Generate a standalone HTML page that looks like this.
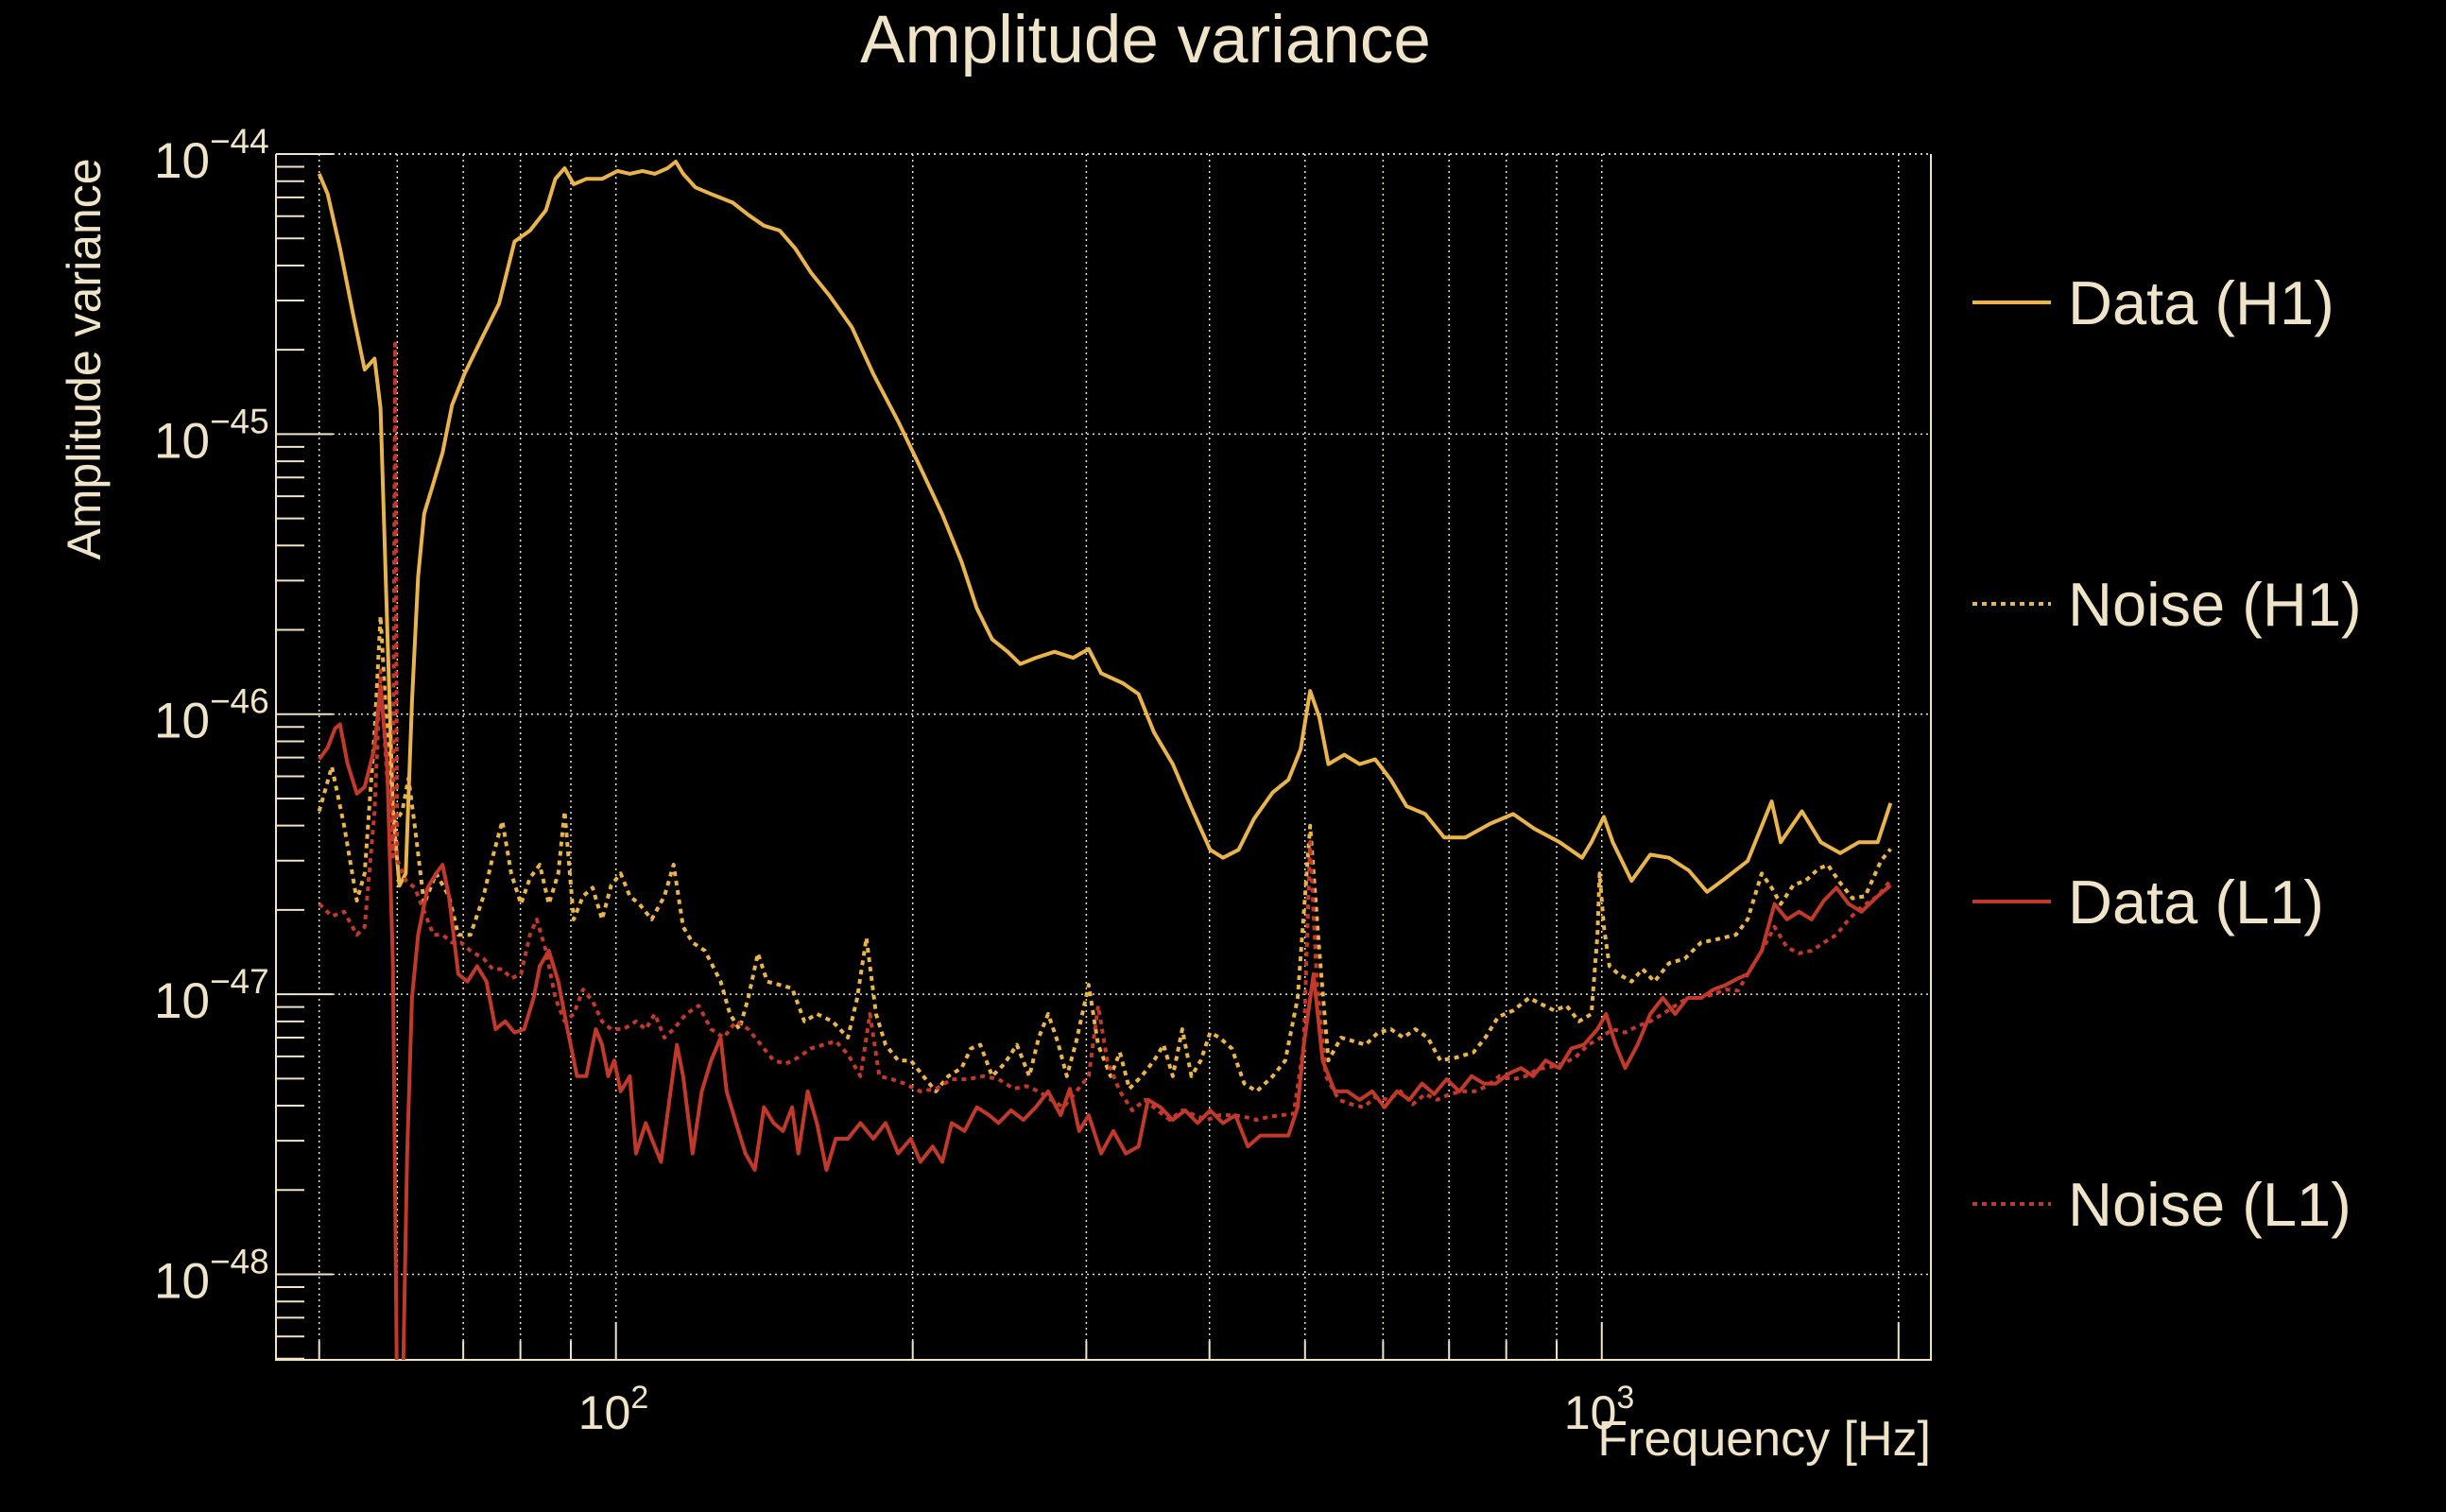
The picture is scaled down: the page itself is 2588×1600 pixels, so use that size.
<!DOCTYPE html>
<html><head><meta charset="utf-8"><title>Amplitude variance</title>
<style>
html,body{margin:0;padding:0;background:#000;}
svg{display:block;}
text{font-family:"Liberation Sans",Arial,sans-serif;fill:#f0e4c8;}
</style></head>
<body>
<svg id="chart" width="2588" height="1600" viewBox="0 0 2588 1600" xmlns="http://www.w3.org/2000/svg">
<rect x="0" y="0" width="2588" height="1600" fill="#000"/>
<text x="1212" y="66" font-size="71" text-anchor="middle">Amplitude variance</text>
<text transform="translate(106,380) rotate(-90)" font-size="50" text-anchor="middle">Amplitude variance</text>
<text x="2043" y="1540" font-size="52" text-anchor="end">Frequency [Hz]</text>
<defs><clipPath id="plotclip"><rect x="292" y="163" width="1751" height="1276"/></clipPath></defs>
<g id="grid"></g>
<g id="axes"></g>
<g id="series" clip-path="url(#plotclip)"></g>
<g id="legend"></g>
</svg>
<script>
// ---- data ----
const h1DataFreq = [50,51,52.5,54.1,55.6,56.9,57.7,58.6,59.4,60.3,61.2,62.1,63.0,63.9,65.3,66.7,68.2,70.2,73.4,76.1,78.9,81.8,84.9,86.8,88.7,90.6,93.3,96.8,100.4,103.3,106.4,109.5,112.8,115,117,120.4,124.9,131.4,136.2,141.3,146.6,152.0,157.6,164.8,173.5,182.4,193.3,203.6,214.3,224.2,232.3,240.8,249.7,257.1,266.6,278.5,290.9,301.7,310.6,326.8,338.9,351.5,367.2,383.5,400.6,412.8,428.1,444,463.8,481,495,506,517,528,548,568,589,611,634,662,692,727,771,813,854,906,955,976,1005,1026,1072,1120,1170,1225,1279,1336,1406,1487,1519,1596,1668,1745,1823,1905,1963];
const h1DataVal = [8.5e-45,7.2e-45,4.6e-45,2.7e-45,1.7e-45,1.86e-45,1.24e-45,2.1e-46,4.5e-47,2.44e-47,2.7e-47,1.11e-46,3.1e-46,5.2e-46,6.7e-46,8.6e-46,1.27e-45,1.64e-45,2.26e-45,2.92e-45,4.87e-45,5.33e-45,6.3e-45,8.15e-45,8.9e-45,7.8e-45,8.15e-45,8.15e-45,8.7e-45,8.5e-45,8.7e-45,8.5e-45,8.9e-45,9.4e-45,8.5e-45,7.6e-45,7.2e-45,6.7e-45,6.07e-45,5.55e-45,5.33e-45,4.6e-45,3.78e-45,3.11e-45,2.41e-45,1.64e-45,1.11e-45,7.6e-46,5.17e-46,3.5e-46,2.39e-46,1.85e-46,1.67e-46,1.51e-46,1.59e-46,1.67e-46,1.59e-46,1.71e-46,1.40e-46,1.29e-46,1.18e-46,8.6e-47,6.63e-47,4.63e-47,3.28e-47,3.07e-47,3.28e-47,4.24e-47,5.26e-47,5.83e-47,7.5e-47,1.21e-46,9.75e-47,6.63e-47,7.16e-47,6.63e-47,6.9e-47,5.83e-47,4.69e-47,4.4e-47,3.63e-47,3.63e-47,4.07e-47,4.4e-47,3.9e-47,3.49e-47,3.07e-47,3.49e-47,4.3e-47,3.49e-47,2.54e-47,3.15e-47,3.07e-47,2.77e-47,2.32e-47,2.6e-47,2.99e-47,4.88e-47,3.49e-47,4.5e-47,3.49e-47,3.19e-47,3.49e-47,3.49e-47,4.81e-47];

const h1NoiseFreq = [50,51.5,53.0,54.6,55.6,56.9,57.7,58.6,59.4,60.7,61.6,62.5,63.9,65.7,67.7,69.2,71.2,73.4,75.0,76.7,78.3,80.1,81.8,83.7,85.5,87.4,88.7,90.6,92.6,94.7,96.8,98.9,101.1,103.3,105.6,108.7,112,114.4,117,119.6,123.1,127.7,130.5,133.4,136.2,139.3,142.4,146.6,150.9,155.3,159.9,165.8,171.9,175.7,179.5,183.6,187.7,193.3,199.1,205.0,211.1,217.3,224.2,229.1,234.2,240.8,247.8,255.1,262.6,268.4,274.4,280.5,286.7,293.1,301.7,308.4,317.5,324.5,331.7,341.4,351.5,359.3,367.2,375.4,383.5,392,400.6,409.5,421.5,433.9,446.6,463.8,477.5,491.5,506,517,528,544,560,576,593,611,629,647,666,686,713,741,762,785,813,844,869,895,921,948,976,990,995,1005,1018,1040,1072,1100,1131,1170,1214,1261,1307,1368,1406,1453,1487,1519,1564,1611,1658,1695,1745,1796,1850,1920,1963];
const h1NoiseVal = [4.5e-47,6.5e-47,4.0e-47,2.16e-47,2.7e-47,8.6e-47,2.24e-46,8.6e-47,4.0e-47,4.5e-47,5.9e-47,4.0e-47,2.1e-47,2.7e-47,2.24e-47,1.63e-47,1.63e-47,2.24e-47,3.1e-47,4.15e-47,2.7e-47,2.1e-47,2.6e-47,2.9e-47,2.1e-47,2.7e-47,4.5e-47,1.85e-47,2.24e-47,2.4e-47,1.85e-47,2.45e-47,2.7e-47,2.24e-47,2.1e-47,1.85e-47,2.24e-47,2.9e-47,1.74e-47,1.53e-47,1.43e-47,1.11e-47,8.5e-48,7.5e-48,9.7e-48,1.4e-47,1.11e-47,1.08e-47,1.05e-47,8.0e-48,8.5e-48,8.0e-48,7.0e-48,9.7e-48,1.59e-47,8.5e-48,6.6e-48,5.8e-48,5.8e-48,5.1e-48,4.5e-48,5.1e-48,5.45e-48,6.4e-48,6.6e-48,5.1e-48,5.65e-48,6.6e-48,5.1e-48,7.0e-48,8.5e-48,6.8e-48,5.1e-48,6.8e-48,1.08e-47,6.6e-48,5.1e-48,6.2e-48,4.6e-48,5.1e-48,5.8e-48,6.6e-48,5.1e-48,7.5e-48,5.1e-48,5.8e-48,7.3e-48,7.0e-48,6.4e-48,4.8e-48,4.5e-48,5.1e-48,5.8e-48,9.7e-48,4.0e-47,1.43e-47,5.8e-48,7.0e-48,6.8e-48,6.6e-48,7.3e-48,7.5e-48,7.0e-48,7.5e-48,7.0e-48,5.8e-48,5.95e-48,6.2e-48,7.0e-48,8.3e-48,8.75e-48,9.7e-48,9.2e-48,8.75e-48,9.1e-48,8.0e-48,8.5e-48,1.63e-47,2.7e-47,1.74e-47,1.26e-47,1.18e-47,1.11e-47,1.23e-47,1.11e-47,1.29e-47,1.34e-47,1.53e-47,1.57e-47,1.63e-47,1.85e-47,2.7e-47,2.4e-47,2.1e-47,2.45e-47,2.55e-47,2.8e-47,2.9e-47,2.5e-47,2.2e-47,2.24e-47,3.0e-47,3.3e-47];

const l1DataFreq = [50,51,51.9,52.5,53.4,54.6,55.6,56.9,57.7,58.6,59.4,60.0,60.7,61.4,62.1,63.0,64.4,65.7,66.7,67.7,69.2,70.7,72.3,73.9,75.5,77.2,78.9,80.7,82.5,83.7,85.5,87.4,89.3,91.3,93.3,95.4,96.8,98.2,99.6,101.1,103.3,104.8,107.2,108.7,111.1,113.6,115.3,117,119.6,122.2,124.9,127.7,129.5,132.4,135.3,138.3,141.3,144.5,147.7,150.9,153.1,156.5,159.9,163.5,167.1,171.9,177,182.4,187.7,193.3,199.1,203.6,209.6,214.3,219.1,225.7,232.3,239.1,244.4,251.6,259,266.6,274.4,282.5,288.7,295,301.7,310.6,319.6,329,338.9,346.5,356.7,367.2,377.9,389,400.6,412.8,425,437.5,450.4,463.8,481,491.5,498.6,510,521,536,552,568,585,602,620,638,657,676,696,717,738,759,781,804,828,852,877,906,931,959,990,1010,1033,1056,1087,1120,1153,1187,1222,1261,1298,1336,1375,1406,1453,1497,1541,1585,1632,1680,1730,1780,1834,1905,1963];
const l1DataVal = [6.9e-47,7.6e-47,8.9e-47,9.2e-47,6.7e-47,5.2e-47,5.5e-47,7.6e-47,1.26e-46,6.7e-47,1.26e-47,3e-49,3e-49,2.7e-48,9.7e-48,1.63e-47,2.4e-47,2.7e-47,2.9e-47,2.24e-47,1.18e-47,1.11e-47,1.26e-47,1.11e-47,7.5e-48,8.0e-48,7.3e-48,7.5e-48,9.7e-48,1.26e-47,1.43e-47,1.11e-47,7.5e-48,5.1e-48,5.1e-48,7.5e-48,6.6e-48,5.1e-48,5.8e-48,4.5e-48,5.1e-48,2.7e-48,3.47e-48,3.05e-48,2.52e-48,4.5e-48,6.6e-48,5.1e-48,2.7e-48,4.5e-48,5.8e-48,7.0e-48,4.5e-48,3.47e-48,2.7e-48,2.36e-48,3.95e-48,3.47e-48,3.25e-48,3.95e-48,2.7e-48,4.5e-48,3.47e-48,2.36e-48,3.05e-48,3.05e-48,3.47e-48,3.05e-48,3.47e-48,2.7e-48,3.05e-48,2.52e-48,2.86e-48,2.52e-48,3.47e-48,3.25e-48,3.95e-48,3.7e-48,3.47e-48,3.85e-48,3.56e-48,3.95e-48,4.5e-48,3.7e-48,4.6e-48,3.25e-48,3.7e-48,2.7e-48,3.25e-48,2.7e-48,2.86e-48,4.2e-48,3.95e-48,3.56e-48,3.85e-48,3.47e-48,3.85e-48,3.47e-48,3.7e-48,2.86e-48,3.13e-48,3.13e-48,3.13e-48,3.95e-48,6.6e-48,1.18e-47,5.8e-48,4.5e-48,4.5e-48,4.2e-48,4.5e-48,3.95e-48,4.5e-48,4.2e-48,4.8e-48,4.4e-48,4.97e-48,4.5e-48,5.1e-48,4.8e-48,4.8e-48,5.2e-48,5.45e-48,5.1e-48,5.8e-48,5.45e-48,6.4e-48,6.6e-48,7.5e-48,8.5e-48,6.6e-48,5.45e-48,6.6e-48,8.5e-48,9.7e-48,8.5e-48,9.7e-48,9.7e-48,1.04e-47,1.08e-47,1.14e-47,1.18e-47,1.43e-47,2.1e-47,1.85e-47,1.97e-47,1.85e-47,2.16e-47,2.4e-47,2.1e-47,1.97e-47,2.24e-47,2.45e-47];

const l1NoiseFreq = [50,51.5,53,54.6,55.6,56.9,57.7,58.6,59.0,59.4,59.7,60.0,60.3,61.2,62.5,63.9,65.3,66.7,68.2,69.6,71.2,73.4,75.0,76.7,78.3,80.1,81.8,83.1,84.9,86.8,88.7,90.6,92.6,94.7,96.8,98.9,101.8,104.8,107.2,109.5,112,114.4,117.8,121.3,124.9,128.6,132.4,136.2,140.3,144.5,148.7,153.1,157.6,162.3,167.1,171.9,177,181,185,190.6,196.2,203.6,211.1,219.1,227.4,236,244.4,253.3,260.7,268.4,276.3,284.4,293.1,301.7,308.4,315,324.5,334.1,344,354.3,364.7,375.4,386.5,397.8,409.5,421.5,433.9,446.6,459.7,473.2,487,498.6,506,514,525,541,557,573,590,607,625,643,662,681,701,722,743,765,787,813,837,861,887,913,940,969,997,1026,1056,1087,1120,1153,1187,1222,1261,1298,1336,1375,1406,1453,1497,1541,1585,1632,1680,1730,1780,1834,1905,1963];
const l1NoiseVal = [2.1e-47,1.9e-47,1.97e-47,1.63e-47,1.74e-47,4.5e-47,1.43e-46,5.9e-47,5e-47,3.1e-47,2.1e-45,3e-47,2.9e-47,2.55e-47,2.4e-47,1.97e-47,1.63e-47,1.63e-47,1.53e-47,1.53e-47,1.43e-47,1.34e-47,1.23e-47,1.23e-47,1.14e-47,1.18e-47,1.63e-47,1.85e-47,1.43e-47,9.7e-48,8.0e-48,8.5e-48,1.04e-47,9.45e-48,8.0e-48,7.5e-48,7.5e-48,8.0e-48,7.5e-48,8.5e-48,7.0e-48,7.5e-48,8.5e-48,9.1e-48,7.5e-48,7.0e-48,8.0e-48,7.5e-48,6.6e-48,5.8e-48,5.65e-48,5.95e-48,6.4e-48,6.6e-48,6.8e-48,6.1e-48,5.1e-48,8.5e-48,5.1e-48,4.97e-48,4.8e-48,4.5e-48,4.6e-48,4.97e-48,4.97e-48,5.1e-48,4.97e-48,4.6e-48,4.7e-48,4.5e-48,4.2e-48,3.95e-48,4.5e-48,5.1e-48,9.1e-48,5.8e-48,4.5e-48,3.85e-48,4.2e-48,3.85e-48,3.56e-48,3.85e-48,3.7e-48,3.56e-48,3.7e-48,3.7e-48,3.65e-48,3.56e-48,3.65e-48,3.7e-48,3.75e-48,6.6e-48,3.5e-47,1.11e-47,5.1e-48,4.2e-48,4.05e-48,3.95e-48,4.3e-48,4.2e-48,4.5e-48,4.05e-48,4.4e-48,4.2e-48,4.4e-48,4.5e-48,4.5e-48,4.7e-48,5.1e-48,4.97e-48,5.1e-48,5.4e-48,5.5e-48,5.65e-48,5.95e-48,6.6e-48,7.0e-48,7.5e-48,7.3e-48,7.7e-48,8.0e-48,8.5e-48,9.1e-48,9.7e-48,9.7e-48,1.0e-47,1.04e-47,1.03e-47,1.18e-47,1.43e-47,1.74e-47,1.47e-47,1.4e-47,1.43e-47,1.53e-47,1.63e-47,1.85e-47,2.05e-47,2.24e-47,2.55e-47];

const xGridFreqs = [50,60,70,80,90,100,200,300,400,500,600,700,800,900,1000,2000];
const yDecades = [-44,-45,-46,-47,-48];
const xLabelDecades = [2,3];
const legendLabels = ["Data (H1)","Noise (H1)","Data (L1)","Noise (L1)"];

// ---- axes ----
const PX0=292, PX1=2043, PY0=163, PY1=1439;
const LX0=Math.log10(45.2), LX1=Math.log10(2157);
const LY0=Math.log10(4.95e-49), LY1=-44;
function xScale(f){return PX0+(Math.log10(f)-LX0)/(LX1-LX0)*(PX1-PX0);}
function yScale(v){return PY1-(Math.log10(v)-LY0)/(LY1-LY0)*(PY1-PY0);}

const NS="http://www.w3.org/2000/svg";
function mk(tag,attrs,parent){const e=document.createElementNS(NS,tag);for(const k in attrs)e.setAttribute(k,attrs[k]);parent.appendChild(e);return e;}
const grid=document.getElementById('grid');
const axes=document.getElementById('axes');
const series=document.getElementById('series');
const legend=document.getElementById('legend');
const CREAM="#f0e4c8";

xGridFreqs.forEach(f=>{
  const x=xScale(f);
  const l=mk('line',{x1:x,y1:PY0,x2:x,y2:PY1,stroke:CREAM,'stroke-width':1.5,'stroke-dasharray':'2,4'},grid);
  
  
  const t=mk('line',{x1:x,y1:PY1,x2:x,y2:PY1-(f%1000===0||f===100?40:20),stroke:CREAM,'stroke-width':2},axes);
  
  
});
yDecades.forEach(d=>{
  const y=yScale(Math.pow(10,d));
  const l=mk('line',{x1:PX0,y1:y,x2:PX1,y2:y,stroke:CREAM,'stroke-width':1.5,'stroke-dasharray':'2,4'},grid);
  
  
  const tk=mk('line',{x1:PX0,y1:y,x2:PX0+60,y2:y,stroke:CREAM,'stroke-width':2},axes);
  
  
  const tx=mk('text',{x:163,y:y+25,'font-size':53,'text-anchor':'start'},axes);
  
  
  tx.innerHTML='10<tspan dy="-26" font-size="37">\u2212'+(-d)+'</tspan>';
  for(let m=2;m<=9;m++){
    const v=m*Math.pow(10,d);
    if(v<4.95e-49||v>1e-44) continue;
    const yy=yScale(v);
    const mt=mk('line',{x1:PX0,y1:yy,x2:PX0+30,y2:yy,stroke:CREAM,'stroke-width':2},axes);
    
    
  }
});
[5e-49,6e-49,7e-49,8e-49,9e-49].forEach(v=>{
  const yy=yScale(v);
  const mt=mk('line',{x1:PX0,y1:yy,x2:PX0+30,y2:yy,stroke:CREAM,'stroke-width':2},axes);
  
  
});
xLabelDecades.forEach(d=>{
  const x=xScale(Math.pow(10,d));
  const tx=mk('text',{x:x-40,y:1512,'font-size':50},axes);
  
  
  tx.innerHTML='10<tspan dy="-22" font-size="34">'+d+'</tspan>';
});
const frame=mk('path',{d:`M${PX0},${PY0} L${PX0},${PY1} L${PX1},${PY1} L${PX1},${PY0}`,fill:'none',stroke:CREAM,'stroke-width':2},axes);


const topl=mk('line',{x1:PX0,y1:PY0,x2:PX1,y2:PY0,stroke:CREAM,'stroke-width':1.5,'stroke-dasharray':'2,4'},axes);



const YEL="#e9b44c", RED="#c0392b";
const defs=[
  {f:h1DataFreq,v:h1DataVal,c:YEL,dash:null,name:'data-h1-line'},
  {f:h1NoiseFreq,v:h1NoiseVal,c:YEL,dash:'5,5',name:'noise-h1-line'},
  {f:l1DataFreq,v:l1DataVal,c:RED,dash:null,name:'data-l1-line'},
  {f:l1NoiseFreq,v:l1NoiseVal,c:RED,dash:'5,5',name:'noise-l1-line'}
];
defs.forEach((s,i)=>{
  const pts=s.f.map((f,j)=>xScale(f).toFixed(1)+','+yScale(s.v[j]).toFixed(1));
  const attrs={points:pts.join(' '),fill:'none',stroke:s.c,'stroke-width':4,'stroke-linejoin':'round'};
  if(s.dash) attrs['stroke-dasharray']=s.dash;
  const p=mk('polyline',attrs,series);
  
  
  const ly=[320,639,954,1274][i];
  const ll=mk('line',{x1:2087,y1:ly,x2:2170,y2:ly,stroke:s.c,'stroke-width':4},legend);
  if(s.dash) ll.setAttribute('stroke-dasharray','5,5');
  
  
  const lt=mk('text',{x:2188,y:ly+23,'font-size':65},legend);
  lt.textContent=legendLabels[i];
  
  
});
</script>
</body></html>
